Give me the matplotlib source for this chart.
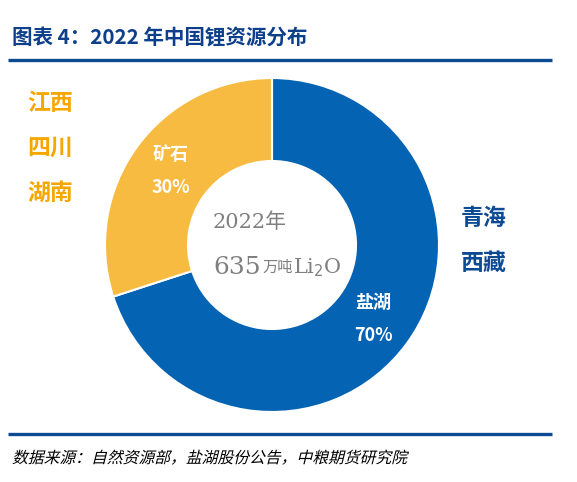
import matplotlib.pyplot as plt
import numpy as np
from matplotlib.font_manager import FontProperties
from matplotlib.patches import PathPatch
from matplotlib.textpath import TextPath
from matplotlib.transforms import Affine2D

plt.rcParams["font.family"] = ["Noto Sans CJK SC", "DejaVu Sans"]

# data
categories = ["盐湖", "矿石"]
shares = [70, 30]
colors = ["#0563B4", "#F7BB41"]
regions_salt = ["青海", "西藏"]
regions_ore = ["江西", "四川", "湖南"]
center_year = "2022年"
center_total = "635"
center_unit = "万吨"
center_chem = "Li$_2$O"
title = "图表 4：2022 年中国锂资源分布"
source = "数据来源：自然资源部，盐湖股份公告，中粮期货研究院"

W, H = 577, 482


def Y(y):
    return H - y


fig = plt.figure(figsize=(W / 100, H / 100), dpi=100)
ax = fig.add_axes([0, 0, 1, 1])

cx, cy, R, ring = 272, Y(245), 167, 83
wedges, _ = ax.pie(
    shares,
    colors=colors,
    startangle=90,
    counterclock=False,
    center=(cx, cy),
    radius=R,
    wedgeprops=dict(width=ring, edgecolor="white", linewidth=1.5),
)
ax.set_xlim(0, W)
ax.set_ylim(0, H)
ax.set_aspect("equal")
ax.axis("off")

# labels at the middle of each ring segment
for w, cat, val in zip(wedges, categories, shares):
    mid = np.deg2rad((w.theta1 + w.theta2) / 2)
    r = R - ring / 2
    ax.text(cx + r * np.cos(mid), cy + r * np.sin(mid), f"{cat}\n{val}%",
            color="white", fontsize=13, fontweight="bold",
            ha="center", va="center", linespacing=1.95)

# region lists
for i, s in enumerate(regions_ore):
    ax.text(50, Y(103 + i * 45), s, color="#F5A700", fontsize=16.5,
            fontweight="bold", ha="center", va="center")
for i, s in enumerate(regions_salt):
    ax.text(484, Y(218 + i * 45), s, color="#0D4A94", fontsize=16.5,
            fontweight="bold", ha="center", va="center")

# centre text
gray = "#7F7F7F"
ax.text(250, Y(222), center_year, color=gray, fontsize=15,
        fontfamily=["DejaVu Serif", "Noto Sans CJK SC"], ha="center", va="center")
t1 = ax.text(213, Y(274), center_total, color=gray, fontsize=18,
             fontfamily="DejaVu Serif", ha="left", va="baseline")
t2 = ax.annotate(center_unit, xy=(1, 0), xycoords=t1, xytext=(1, 2),
                 textcoords="offset points", color=gray, fontsize=11,
                 ha="left", va="bottom")
ax.annotate(center_chem, xy=(1, 0), xycoords=t2, xytext=(0, -2),
            textcoords="offset points", color=gray, fontsize=15,
            fontfamily="DejaVu Serif", ha="left", va="bottom")

# title and rules
ax.text(12, Y(37), title, color="#0D3F8A", fontsize=14.8, fontweight="bold",
        ha="left", va="center")
ax.plot([8, 552], [Y(60), Y(60)], color="#0D4A94", lw=2.4,
        solid_capstyle="butt")
ax.plot([8, 552], [Y(434), Y(434)], color="#0D4A94", lw=2.4,
        solid_capstyle="butt")

# source line, slanted like an italic
tp = TextPath((0, 0), source, size=15.8,
              prop=FontProperties(family="Noto Sans CJK SC"))
tr = Affine2D().skew_deg(14, 0).translate(12, Y(463)) + ax.transData
ax.add_patch(PathPatch(tp, transform=tr, facecolor="black", edgecolor="none"))

fig.savefig("out.png", dpi=100)
